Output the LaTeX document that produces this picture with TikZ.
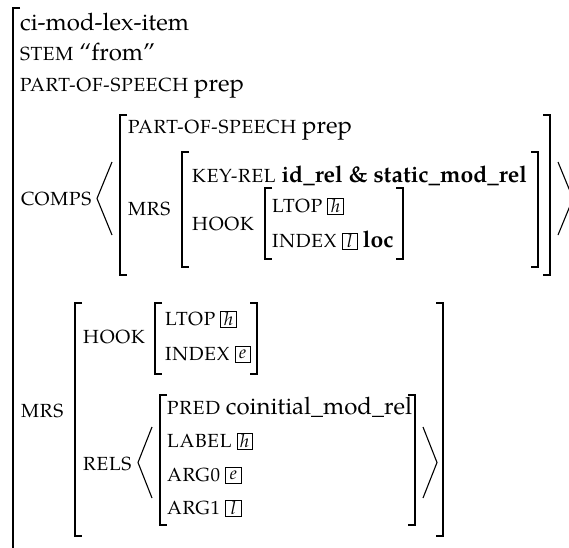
\documentclass[tikz,border=0pt]{standalone}
\usepackage{fontspec}
\setmainfont{TeX Gyre Pagella}
\newfontfamily\scfam[LetterSpace=4]{TeX Gyre Pagella}
\newcommand\attr[1]{{\scfam\fontsize{19}{24}\selectfont #1}}
\newcommand\bval[1]{{\fontsize{23}{29}\selectfont\bfseries #1}}
\begin{document}
\begin{tikzpicture}[x=1pt,y=-1pt,
  lbl/.style={anchor=base west, inner sep=0pt, font=\fontsize{24}{29}\selectfont},
  tagbox/.style={draw, line width=0.6pt, inner sep=0pt, minimum width=15.5pt, minimum height=16.5pt, font=\fontsize{18}{18}\selectfont\itshape, anchor=south west},
  brk/.style={line width=1.1pt, line cap=butt, line join=miter}]
\useasboundingbox (0,0) rectangle (569,547);
% outer bracket
\draw[brk] (20,8) -- (13,8) -- (13,560);
\node[lbl] (type) at (20,30.5) {ci-mod-lex-item};
\node[lbl] (stem) at (20,60.7) {\attr{STEM} ``from''};
\node[lbl] (pos) at (20,91) {\attr{PART-OF-SPEECH} prep};
% COMPS
\node[lbl] (comps) at (21,205) {\attr{COMPS}};
\draw[brk] (112,162) -- (97,198.5) -- (112,235);
\draw[brk] (558,162) -- (573,198.5) -- (558,235);
\draw[brk] (127,115) -- (120,115) -- (120,275) -- (127,275);
\draw[brk] (543,115) -- (550,115) -- (550,275) -- (543,275);
\node[lbl] (cpos) at (128,133) {\attr{PART-OF-SPEECH} prep};
\node[lbl] (cmrs) at (128,215) {\attr{MRS}};
\draw[brk] (189,152) -- (182,152) -- (182,267) -- (189,267);
\draw[brk] (531,152) -- (538,152) -- (538,267) -- (531,267);
\node[lbl] (ckey) at (192,182) {\attr{KEY-REL} \bval{id\_rel \& static\_mod\_rel}};
\node[lbl] (chook) at (192,230) {\attr{HOOK}};
\draw[brk] (272,188) -- (265,188) -- (265,259) -- (272,259);
\draw[brk] (396,188) -- (403,188) -- (403,259) -- (396,259);
\node[lbl] (cltop) at (272,212) {\attr{LTOP}};
\node[tagbox] (ctagh) at ([xshift=5pt,yshift=-3pt]cltop.base east) {h};
\node[lbl] (cindex) at (272,247) {\attr{INDEX}};
\node[tagbox] (ctagl) at ([xshift=5pt,yshift=-3pt]cindex.base east) {l};
\node[lbl, anchor=base west] (cloc) at ([xshift=5pt]cindex.base east -| ctagl.east) {\bval{loc}};
% MRS
\node[lbl] (mrs) at (21,417) {\attr{MRS}};
\draw[brk] (82,303) -- (75,303) -- (75,536) -- (82,536);
\draw[brk] (436,303) -- (443,303) -- (443,536) -- (436,536);
\node[lbl] (hook) at (83,343) {\attr{HOOK}};
\draw[brk] (162,303) -- (155,303) -- (155,374) -- (162,374);
\draw[brk] (250,303) -- (257,303) -- (257,374) -- (250,374);
\node[lbl] (ltop) at (165,325) {\attr{LTOP}};
\node[tagbox] (tagh) at ([xshift=5pt,yshift=-3pt]ltop.base east) {h};
\node[lbl] (index) at (165,360) {\attr{INDEX}};
\node[tagbox] (tage) at ([xshift=5pt,yshift=-3pt]index.base east) {e};
\node[lbl] (rels) at (83,470) {\attr{RELS}};
\draw[brk] (152,427) -- (138,462.5) -- (152,498);
\draw[brk] (423,427) -- (437,462.5) -- (423,498);
\draw[brk] (167,395) -- (160,395) -- (160,525) -- (167,525);
\draw[brk] (408,395) -- (415,395) -- (415,525) -- (408,525);
\node[lbl] (pred) at (167,414) {\attr{PRED} coinitial\_mod\_rel};
\node[lbl] (label) at (167,447) {\attr{LABEL}};
\node[tagbox] (tagh2) at ([xshift=5pt,yshift=-3pt]label.base east) {h};
\node[lbl] (arg0) at (167,481) {\attr{ARG0}};
\node[tagbox] (tage2) at ([xshift=5pt,yshift=-3pt]arg0.base east) {e};
\node[lbl] (arg1) at (167,514) {\attr{ARG1}};
\node[tagbox] (tagl2) at ([xshift=5pt,yshift=-3pt]arg1.base east) {l};
\end{tikzpicture}
\end{document}
